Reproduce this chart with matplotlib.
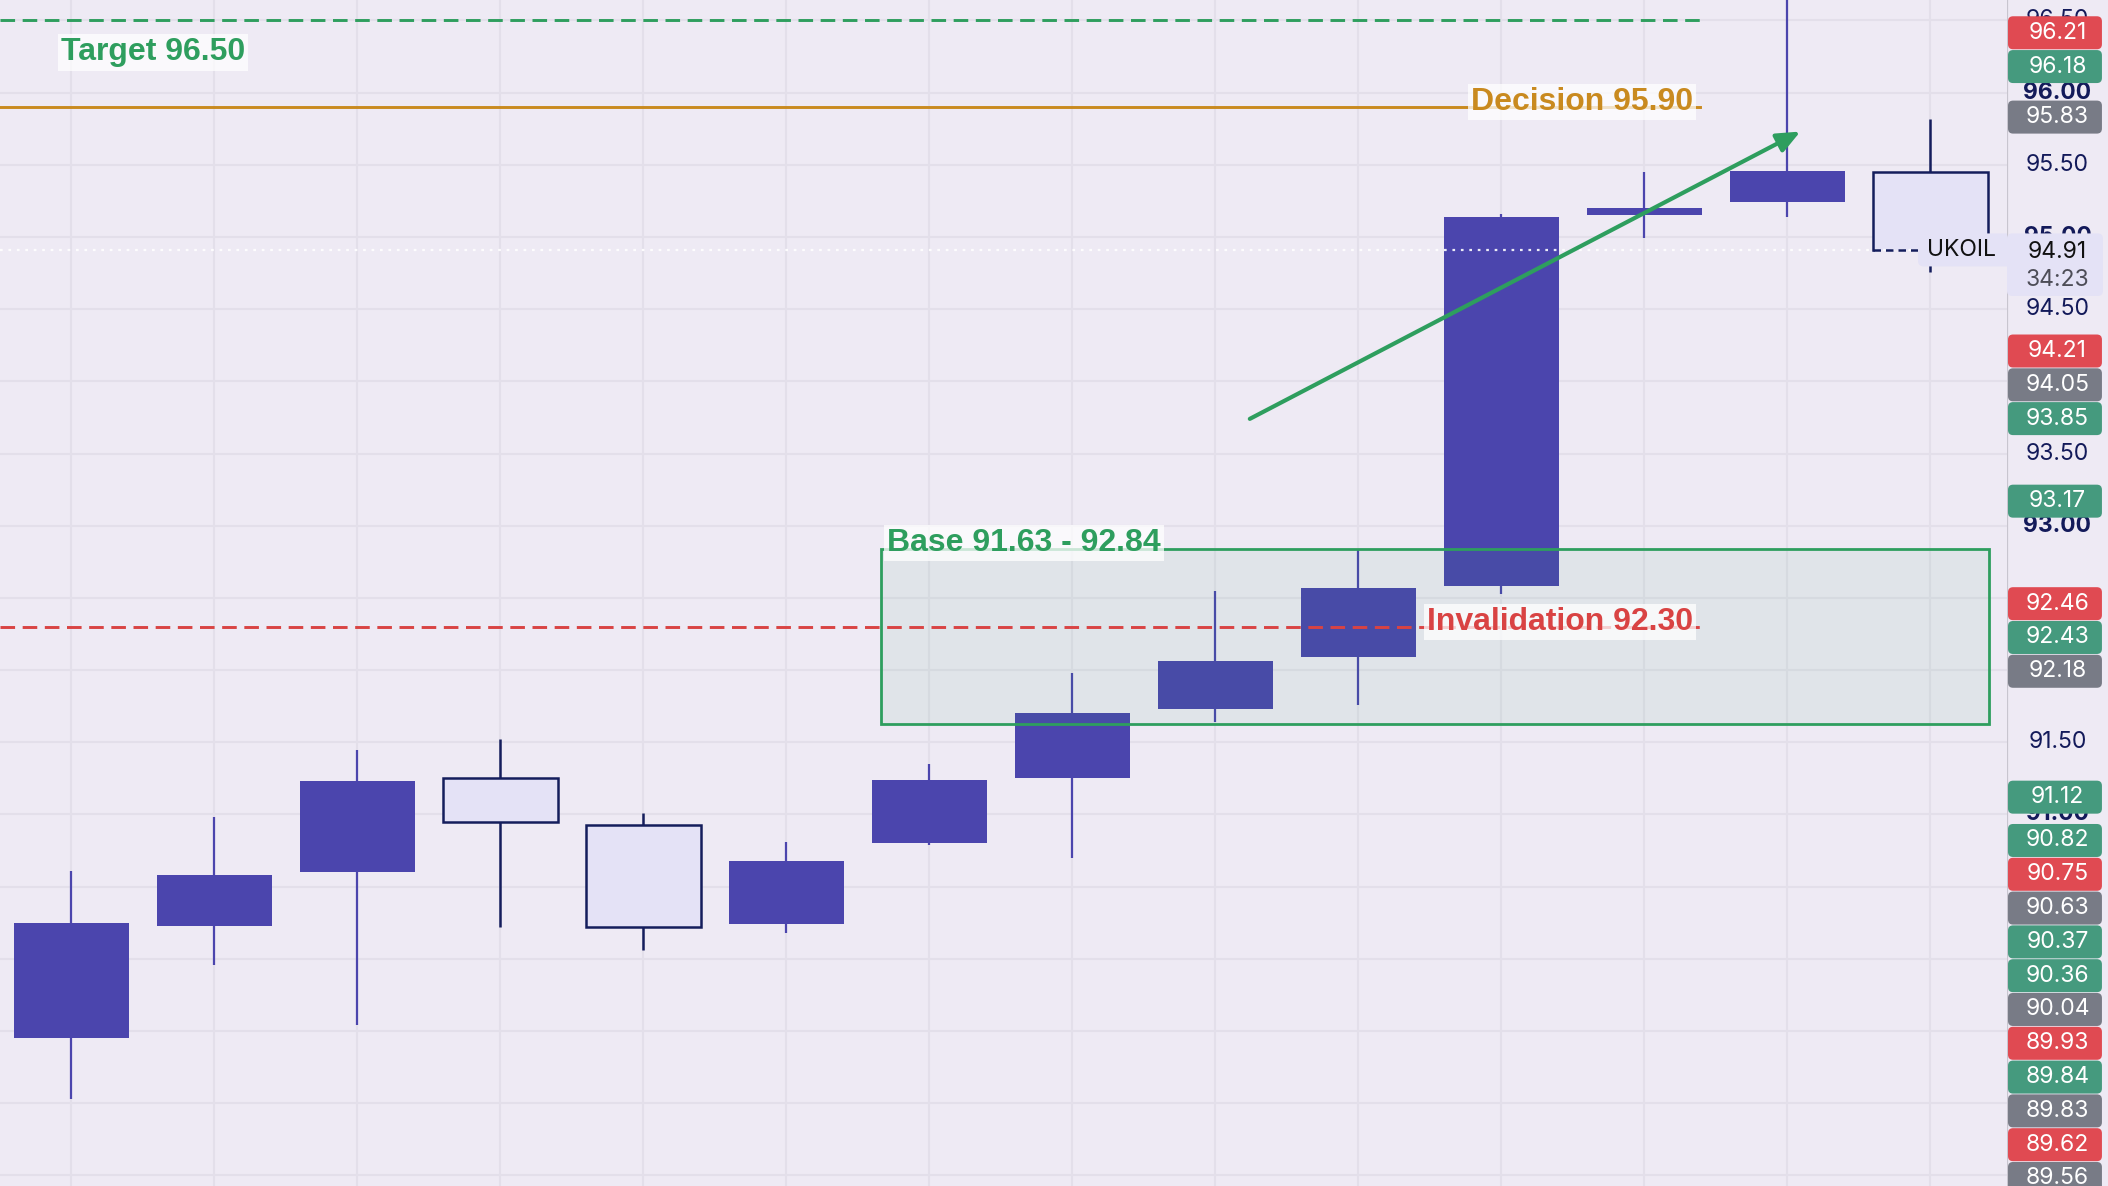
#!/usr/bin/env python3

import numpy as np
import matplotlib.pyplot as plt
from matplotlib.patches import Rectangle, FancyBboxPatch

# UKOIL candles, oldest first
opens  = [89.45, 90.23, 90.60, 91.25, 90.93, 90.24, 90.80, 91.25, 91.73, 92.09, 92.58, 95.15, 95.24, 95.45]
highs  = [90.61, 90.98, 91.45, 91.52, 91.01, 90.81, 91.35, 91.98, 92.55, 92.84, 95.16, 95.45, 96.80, 95.82]
lows   = [89.03, 89.96, 89.54, 90.22, 90.06, 90.18, 90.79, 90.70, 91.64, 91.76, 92.53, 94.99, 95.14, 94.76]
closes = [90.25, 90.58, 91.23, 90.95, 90.22, 90.68, 91.24, 91.70, 92.06, 92.57, 95.14, 95.20, 95.46, 94.91]

symbol = 'UKOIL'
last_price = 94.91
countdown = '34:23'

# drawn levels
target = 96.50
decision = 95.90
invalidation = 92.30
base_low, base_high = 91.63, 92.84
base_from, base_to = 5.66, 13.41      # bar index span of the base box
level_end = 11.39                     # bar index where the level lines stop
arrow_from = (8.24, 93.74)
arrow_to = (12.09, 95.73)

# price tags on the right scale, in stacking order
tag_vals = [96.18, 96.21, 95.83, 94.21, 94.05, 93.85, 93.17, 92.46, 92.43, 92.18, 91.12,
            90.82, 90.75, 90.63, 90.37, 90.36, 90.04, 89.93, 89.84, 89.83, 89.62, 89.56]
tag_kinds = ['g', 'r', 'k', 'r', 'k', 'g', 'g', 'r', 'g', 'k', 'g',
             'g', 'r', 'k', 'g', 'g', 'k', 'r', 'g', 'k', 'r', 'k']

BG = '#eeeaf4'
GRID = '#e3dfea'
UP = '#4b45ad'
DOWN_FACE = '#e4e2f6'
NAVY = '#141d5c'
GREEN = '#2e9e5e'
ORANGE = '#c98a1f'
RED = '#d94343'
TAG_COLORS = {'g': '#459a7e', 'r': '#e04a52', 'k': '#787b86'}

W, H = 2108, 1186
PLOT_W = 2007
ylo, yhi = 88.427, 96.641
ppx = (yhi - ylo) / H          # price per pixel
xlo, xhi = -0.5, 13.535

plt.rcParams['font.family'] = ['Inter', 'DejaVu Sans']

fig = plt.figure(figsize=(W / 100, H / 100), dpi=100)
fig.patch.set_facecolor(BG)

ax = fig.add_axes([0, 0, PLOT_W / W, 1])
ax.set_facecolor(BG)
ax.set_xlim(xlo, xhi)
ax.set_ylim(ylo, yhi)
ax.axis('off')

sax = fig.add_axes([PLOT_W / W, 0, (W - PLOT_W) / W, 1])
sax.set_facecolor(BG)
sax.set_xlim(0, 1)
sax.set_ylim(ylo, yhi)
sax.axis('off')

# grid
grid_prices = np.arange(88.5, 96.75, 0.5)
for p in grid_prices:
    ax.axhline(p, color=GRID, lw=1.5, zorder=0)
for i in range(len(opens)):
    ax.axvline(i, color=GRID, lw=1.5, zorder=0)

# candles
n = len(opens)
bw = 0.8
for i in range(n):
    o, h, l, c = opens[i], highs[i], lows[i], closes[i]
    up = c >= o
    if up:
        ax.vlines(i, l, h, color=UP, lw=1.6, zorder=2)
        ax.add_patch(Rectangle((i - bw / 2, min(o, c)), bw, max(abs(c - o), 0.02),
                               facecolor=UP, edgecolor='none', zorder=3))
    elif i < n - 1:
        ax.vlines(i, l, h, color=NAVY, lw=1.8, zorder=2)
        ax.add_patch(Rectangle((i - bw / 2, c), bw, o - c,
                               facecolor=DOWN_FACE, edgecolor=NAVY, lw=1.8, zorder=3))
    else:
        # live candle: bottom edge is taken over by the price line
        ax.vlines(i, l, h, color=NAVY, lw=1.8, zorder=2)
        ax.add_patch(Rectangle((i - bw / 2, c), bw, o - c,
                               facecolor=DOWN_FACE, edgecolor='none', zorder=3))
        ax.plot([i - bw / 2, i - bw / 2, i + bw / 2, i + bw / 2], [c, o, o, c],
                color=NAVY, lw=1.8, zorder=4, solid_joinstyle='miter')

# current price line
ax.axhline(last_price, color='white', lw=1.6, ls=(0, (1.2, 2.6)), alpha=0.9, zorder=3.5)
ax.plot([n - 1 - bw / 2, xhi], [last_price, last_price], color=NAVY, lw=1.8,
        ls=(0, (3, 2)), zorder=4)

# base zone
ax.add_patch(Rectangle((base_from, base_low), base_to - base_from, base_high - base_low,
                       facecolor=(46 / 255, 158 / 255, 94 / 255, 0.07), edgecolor=GREEN,
                       lw=2.0, zorder=5))

# level lines
ax.plot([xlo, level_end], [target, target], color=GREEN, lw=2.1, ls=(0, (5, 2.6)), zorder=5)
ax.plot([xlo, level_end], [decision, decision], color=ORANGE, lw=2.1, zorder=5)
ax.plot([xlo, level_end], [invalidation, invalidation], color=RED, lw=2.1,
        ls=(0, (5, 2.6)), zorder=5)

# arrow
ax.annotate('', xy=arrow_to, xytext=arrow_from,
            arrowprops=dict(arrowstyle='-|>,head_length=0.7,head_width=0.3', color=GREEN,
                            lw=3.0, mutation_scale=20, shrinkA=0, shrinkB=0), zorder=6)

lbl_font = dict(family=['Liberation Sans', 'DejaVu Sans'], fontweight='bold', fontsize=23)
lbl_box = dict(boxstyle='square,pad=0.1', fc=(1, 1, 1, 0.75), ec='none')

ax.annotate(f'Target {target:.2f}', xy=(xlo, target), xytext=(61, -40),
            textcoords='offset pixels', ha='left', va='baseline', color=GREEN,
            bbox=lbl_box, zorder=7, **lbl_font)
ax.annotate(f'Decision {decision:.2f}', xy=(level_end, decision), xytext=(-7, -3),
            textcoords='offset pixels', ha='right', va='baseline', color=ORANGE,
            bbox=lbl_box, zorder=7, **lbl_font)
ax.annotate(f'Invalidation {invalidation:.2f}', xy=(level_end, invalidation), xytext=(-7, -3),
            textcoords='offset pixels', ha='right', va='baseline', color=RED,
            bbox=lbl_box, zorder=7, **lbl_font)
ax.annotate(f'Base {base_low:.2f} - {base_high:.2f}', xy=(base_from, base_high), xytext=(6, -2),
            textcoords='offset pixels', ha='left', va='baseline', color=GREEN,
            bbox=lbl_box, zorder=7, **lbl_font)

# symbol tag on the price line
tag_w = 89 / 143
ax.add_patch(FancyBboxPatch((xhi - tag_w, last_price - 16.5 * ppx), tag_w + 0.2, 33 * ppx,
                            boxstyle='round,pad=0,rounding_size=0.04',
                            mutation_aspect=ppx * 143, facecolor=DOWN_FACE,
                            edgecolor='none', zorder=8))
ax.text(xhi - 11 / 143, last_price, symbol, ha='right', va='center', fontsize=16.5,
        color='#111111', zorder=9)


def stack(vals, h):
    placed = []
    for v in vals:
        cands = [v] + [p + s * h for p in placed for s in (1, -1)]
        free = [q for q in cands if all(abs(q - p) >= h - 1e-9 for p in placed)]
        placed.append(min(free, key=lambda q: abs(q - v)))
    return placed


tag_h = 33.8 * ppx
tag_pos = stack(tag_vals, tag_h)

# spans on the scale that the tags cover (price units)
covered = [(p - 16.9 * ppx, p + 16.9 * ppx) for p in tag_pos]
covered.append((last_price - 46 * ppx, last_price + 16.5 * ppx))


def hidden(p, half):
    # True when the whole glyph band [p-half, p+half] sits under the tags
    lo, hi = p - half, p + half
    for a, b in sorted(covered):
        if a <= lo < b:
            lo = b
    return lo >= hi


# right price scale
sax.axvline(0, color='#c8c5cf', lw=1.6, zorder=1)
for p in grid_prices:
    if hidden(p, 8.5 * ppx):
        continue
    bold = abs(p - round(p)) < 1e-9
    sax.text(0.5, p, f'{p:.2f}', ha='center', va='center', fontsize=16.5, color='#131a5a',
             fontweight='bold' if bold else 'normal', zorder=2)

aspect = ppx * (W - PLOT_W)
for v, kind, pos in zip(tag_vals, tag_kinds, tag_pos):
    sax.add_patch(FancyBboxPatch((0.01, pos - 16.5 * ppx), 0.93, 33 * ppx,
                                 boxstyle='round,pad=0,rounding_size=0.05',
                                 mutation_aspect=aspect, facecolor=TAG_COLORS[kind],
                                 edgecolor='none', zorder=3))
    sax.text(0.5, pos, f'{v:.2f}', ha='center', va='center', fontsize=16.5,
             color='white', zorder=4)

# last price tag with countdown
sax.add_patch(FancyBboxPatch((0.0, last_price - 46 * ppx), 0.95, 62.5 * ppx,
                             boxstyle='round,pad=0,rounding_size=0.05',
                             mutation_aspect=aspect, facecolor=DOWN_FACE,
                             edgecolor='none', zorder=3))
sax.text(0.5, last_price - 2.4 * ppx, f'{last_price:.2f}', ha='center', va='center',
         fontsize=16.5, color='#111111', zorder=4)
sax.text(0.5, last_price - 30 * ppx, countdown, ha='center', va='center',
         fontsize=16.5, color='#4d4d57', zorder=4)

fig.savefig('out.png', dpi=100, facecolor=BG)
